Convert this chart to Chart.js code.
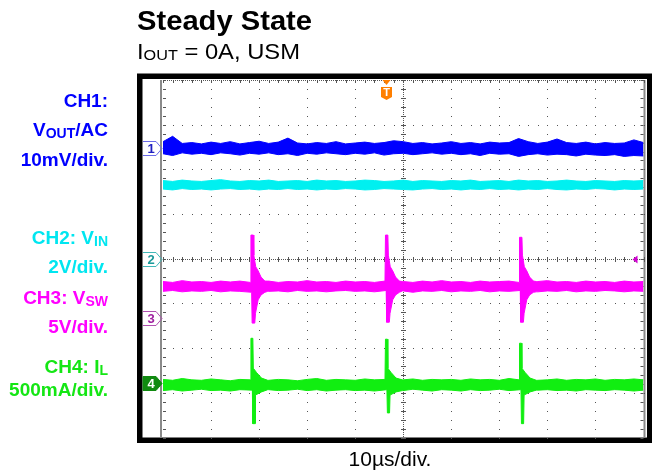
<!DOCTYPE html>
<html>
<head>
<meta charset="utf-8">
<script src="https://cdn.jsdelivr.net/npm/chart.js@4"></script>
<style>
  body { margin: 0; background: #fff; overflow: hidden; }
  #wrap { position: relative; width: 652px; height: 472px; }
  #scope { position: absolute; left: 0; top: 0; }
  .txt { position: absolute; white-space: nowrap; font-family: "Liberation Sans", Arial, sans-serif; }
  .title { left: 137px; top: 8px; font-size: 27px; line-height: 27px; font-weight: bold; transform: scaleX(1.08); transform-origin: left; }
  .sub { left: 137px; top: 41px; font-size: 22px; line-height: 22px; transform: scaleX(1.08); transform-origin: left; }
  .sub sub { font-size: 15px; vertical-align: -1px; line-height: 0; }
  .lab { right: 544px; font-size: 19px; line-height: 19px; font-weight: bold; text-align: right; }
  .lab sub { font-size: 14px; vertical-align: -2px; line-height: 0; }
  .xlab { left: 290px; width: 200px; top: 448px; font-size: 21px; line-height: 21px; text-align: center; }
</style>
</head>
<body>
<div id="wrap">
  <canvas id="scope" width="652" height="472"></canvas>
  <div class="txt title">Steady State</div>
  <div class="txt sub">I<sub>OUT</sub> = 0A, USM</div>
  <div class="txt lab" style="top:91px;color:#0000ff">CH1:</div>
  <div class="txt lab" style="top:120px;color:#0000ff">V<sub>OUT</sub>/AC</div>
  <div class="txt lab" style="top:150px;color:#0000ff">10mV/div.</div>
  <div class="txt lab" style="top:228px;color:#00e6f0">CH2: V<sub>IN</sub></div>
  <div class="txt lab" style="top:257px;color:#00e6f0">2V/div.</div>
  <div class="txt lab" style="top:288px;color:#ff00ff">CH3: V<sub>SW</sub></div>
  <div class="txt lab" style="top:317px;color:#ff00ff">5V/div.</div>
  <div class="txt lab" style="top:357px;color:#14e614">CH4: I<sub>L</sub></div>
  <div class="txt lab" style="top:380px;color:#14e614">500mA/div.</div>
  <div class="txt xlab">10µs/div.</div>
</div>
<script>
// scope screen: 10 div x 10 µs, 8 div vertical; trace values in divisions
const tBase = [0, 2, 4, 6, 8, 10, 12, 14, 16, 18, 20, 22, 24, 26, 28, 30, 32, 34, 36, 38, 40, 42, 44, 46, 48, 50,
  52, 54, 56, 58, 60, 62, 64, 66, 68, 70, 72, 74, 76, 78, 80, 82, 84, 86, 88, 90, 92, 94, 96, 98, 100];

// upper / lower edge of each noisy trace
const ch1Hi = [2.62, 2.74, 2.58, 2.60, 2.57, 2.61, 2.58, 2.62, 2.57, 2.60,
  2.63, 2.58, 2.61, 2.70, 2.59, 2.57, 2.60, 2.58, 2.62, 2.57,
  2.59, 2.61, 2.58, 2.60, 2.64, 2.62, 2.58, 2.60, 2.57, 2.59,
  2.62, 2.58, 2.60, 2.57, 2.61, 2.59, 2.60, 2.69, 2.62, 2.58,
  2.61, 2.68, 2.60, 2.58, 2.61, 2.57, 2.60, 2.58, 2.59, 2.66, 2.60];
const ch1Lo = [2.35, 2.31, 2.37, 2.34, 2.36, 2.33, 2.37, 2.35, 2.32, 2.36,
  2.34, 2.37, 2.33, 2.35, 2.31, 2.36, 2.34, 2.37, 2.35, 2.33,
  2.36, 2.34, 2.37, 2.32, 2.35, 2.36, 2.33, 2.35, 2.37, 2.34,
  2.36, 2.33, 2.35, 2.31, 2.36, 2.34, 2.35, 2.29, 2.33, 2.35,
  2.32, 2.34, 2.33, 2.30, 2.34, 2.32, 2.31, 2.33, 2.29, 2.31, 2.30];
const ch2Hi = [1.75, 1.73, 1.76, 1.74, 1.73, 1.75, 1.77, 1.74, 1.73, 1.75,
  1.74, 1.76, 1.73, 1.74, 1.75, 1.73, 1.76, 1.74, 1.75, 1.73,
  1.74, 1.76, 1.75, 1.73, 1.74, 1.76, 1.73, 1.75, 1.74, 1.73,
  1.75, 1.74, 1.76, 1.73, 1.74, 1.75, 1.73, 1.76, 1.74, 1.75,
  1.73, 1.74, 1.76, 1.74, 1.73, 1.75, 1.74, 1.73, 1.75, 1.74, 1.75];
const ch2Lo = [1.56, 1.54, 1.57, 1.55, 1.56, 1.54, 1.56, 1.57, 1.55, 1.56,
  1.54, 1.56, 1.55, 1.57, 1.55, 1.56, 1.54, 1.56, 1.55, 1.57,
  1.56, 1.54, 1.55, 1.57, 1.56, 1.55, 1.54, 1.56, 1.57, 1.55,
  1.56, 1.54, 1.56, 1.55, 1.57, 1.55, 1.56, 1.54, 1.56, 1.55,
  1.57, 1.55, 1.54, 1.56, 1.55, 1.57, 1.56, 1.54, 1.56, 1.55, 1.56];
const ch3Hi = [-0.51, -0.53, -0.49, -0.52, -0.51, -0.53, -0.50, -0.52, -0.50, -0.53,
  -0.52, -0.50, -0.53, -0.51, -0.52, -0.49, -0.52, -0.51, -0.53, -0.50,
  -0.52, -0.51, -0.53, -0.50, -0.52, -0.51, -0.53, -0.50, -0.52, -0.49,
  -0.52, -0.51, -0.53, -0.50, -0.52, -0.51, -0.50, -0.53, -0.52, -0.51,
  -0.49, -0.52, -0.51, -0.53, -0.50, -0.52, -0.51, -0.53, -0.50, -0.52, -0.51];
const ch3Lo = [-0.73, -0.71, -0.74, -0.72, -0.73, -0.71, -0.74, -0.72, -0.73, -0.75,
  -0.71, -0.73, -0.72, -0.74, -0.71, -0.73, -0.72, -0.74, -0.72, -0.71,
  -0.73, -0.72, -0.74, -0.71, -0.73, -0.72, -0.75, -0.72, -0.73, -0.71,
  -0.74, -0.72, -0.73, -0.71, -0.74, -0.72, -0.73, -0.71, -0.72, -0.74,
  -0.72, -0.73, -0.71, -0.74, -0.72, -0.73, -0.71, -0.72, -0.74, -0.72, -0.73];
const ch4Hi = [-2.70, -2.72, -2.68, -2.71, -2.72, -2.69, -2.71, -2.73, -2.70, -2.71,
  -2.69, -2.72, -2.70, -2.71, -2.73, -2.70, -2.68, -2.72, -2.70, -2.71,
  -2.72, -2.69, -2.71, -2.70, -2.72, -2.71, -2.69, -2.72, -2.70, -2.71,
  -2.70, -2.72, -2.69, -2.71, -2.70, -2.72, -2.68, -2.71, -2.70, -2.72,
  -2.71, -2.69, -2.72, -2.70, -2.71, -2.69, -2.72, -2.70, -2.71, -2.69, -2.71];
const ch4Lo = [-2.95, -2.93, -2.96, -2.94, -2.92, -2.95, -2.94, -2.96, -2.93, -2.94,
  -2.96, -2.93, -2.95, -2.94, -2.92, -2.95, -2.93, -2.96, -2.94, -2.93,
  -2.95, -2.94, -2.96, -2.93, -2.94, -2.95, -2.92, -2.94, -2.96, -2.93,
  -2.94, -2.96, -2.93, -2.95, -2.94, -2.92, -2.95, -2.93, -2.96, -2.94,
  -2.93, -2.95, -2.94, -2.96, -2.93, -2.94, -2.95, -2.93, -2.94, -2.96, -2.94];

// switching edges (µs) and their peaks
const spikeTimes = [18.3, 46.3, 74.2];
const ch3PeakHi = [0.53, 0.53, 0.48];
const ch3PeakLo = [-1.44, -1.42, -1.42];
const ch4PeakHi = [-1.78, -1.80, -1.89];
const ch4PeakLo = [-3.69, -3.45, -3.69];
// ringing after an edge: [µs after edge, div]
const ch3RingHi = [[0.6, 0.08], [1.0, -0.18], [1.5, -0.27], [2.1, -0.41], [2.9, -0.50]];
const ch3RingLo = [[0.95, -1.22], [1.5, -0.92], [2.1, -0.81], [2.9, -0.75]];
const ch4RingHi = [[0.5, -2.45], [1.2, -2.55], [2.2, -2.67]];
const ch4RingLo = [[0.95, -3.05], [2.2, -2.98]];

// channel ground markers (div) and trigger
const markerLevels = [2.47, 0, -1.33, -2.77];
const triggerTime = 46.5;
const triggerLevel = 0;

function nearest(base, t) {
  let i = Math.round(t / 2);
  i = Math.max(0, Math.min(base.length - 1, i));
  return base[i];
}

function edge(base, peaks, pStart, pEnd, ring) {
  if (!peaks) return tBase.map((t, i) => ({ x: t, y: base[i] }));
  const pts = [];
  tBase.forEach((t, i) => {
    const busy = spikeTimes.some(s => t > s - 0.4 && t < s + 3.7);
    if (!busy) pts.push({ x: t, y: base[i] });
  });
  spikeTimes.forEach((s, k) => {
    pts.push({ x: s + pStart - 0.1, y: nearest(base, s) });
    pts.push({ x: s + pStart, y: peaks[k] });
    pts.push({ x: s + pEnd, y: peaks[k] });
    ring.forEach(([dt, v]) => pts.push({ x: s + dt, y: v }));
    pts.push({ x: s + 3.5, y: nearest(base, s + 3.5) });
  });
  return pts.sort((a, b) => a.x - b.x);
}

const traces = [
  { hi: edge(ch1Hi), lo: edge(ch1Lo), color: "#0000ff" },
  { hi: edge(ch2Hi), lo: edge(ch2Lo), color: "#00f0f0" },
  { hi: edge(ch3Hi, ch3PeakHi, 0, 0.5, ch3RingHi), lo: edge(ch3Lo, ch3PeakLo, 0.25, 0.8, ch3RingLo), color: "#ff00ff" },
  { hi: edge(ch4Hi, ch4PeakHi, 0, 0.4, ch4RingHi), lo: edge(ch4Lo, ch4PeakLo, 0.4, 0.85, ch4RingLo), color: "#11ee11" },
];

const datasets = [];
traces.forEach(tr => {
  datasets.push({ data: tr.hi, borderColor: tr.color, backgroundColor: tr.color, fill: "+1" });
  datasets.push({ data: tr.lo, borderColor: tr.color, backgroundColor: tr.color, fill: false });
});

const tagStyles = [
  { stroke: "#6a6ae8", fill: null, text: "#2020c0", label: "1" },
  { stroke: "#40b8b8", fill: null, text: "#1a9a9a", label: "2" },
  { stroke: "#b050b0", fill: null, text: "#a020a0", label: "3" },
  { stroke: "#108a10", fill: "#108a10", text: "#ffffff", label: "4" },
];

const scopePlugin = {
  id: "scope",
  beforeDraw(chart) {
    const { ctx, chartArea: a } = chart;
    ctx.save();
    ctx.fillStyle = "#fff";
    ctx.fillRect(0, 0, chart.width, chart.height);
    ctx.fillStyle = "#000";
    ctx.fillRect(a.left - 26, a.top - 6.5, chart.width - a.left + 26, a.bottom - a.top + 12);
    ctx.fillStyle = "#fff";
    ctx.fillRect(a.left - 20.5, a.top - 1, a.right - a.left + 24, a.bottom - a.top + 1);
    ctx.restore();
  },
  beforeDatasetsDraw(chart) {
    const { ctx, chartArea: a, scales: { x, y } } = chart;
    ctx.save();
    ctx.fillStyle = "#8a8a8a";
    ctx.fillRect(a.left - 3, a.top, 2, a.bottom - a.top);
    ctx.fillRect(a.right, a.top, 2, a.bottom - a.top);
    ctx.fillStyle = "#555";
    const xDots = [], yDots = [];
    for (let v = 0; v <= 100; v += 2) xDots.push(Math.round(x.getPixelForValue(v)));
    for (let v = -20; v <= 20; v++) yDots.push(Math.round(y.getPixelForValue(v / 5)));
    for (let d = 10; d < 100; d += 10) {
      const px = Math.round(x.getPixelForValue(d));
      yDots.forEach(py => ctx.fillRect(px, py, 1, 1));
    }
    for (let d = -3; d <= 3; d++) {
      const py = Math.round(y.getPixelForValue(d));
      xDots.forEach(px => ctx.fillRect(px, py, 1, 1));
    }
    const cx = Math.round(x.getPixelForValue(50));
    const cy = Math.round(y.getPixelForValue(0));
    for (let p = a.left; p < a.right; p += 2) ctx.fillRect(p, cy, 1, 1);
    for (let p = a.top; p < a.bottom; p += 2) ctx.fillRect(cx, p, 1, 1);
    xDots.forEach(px => ctx.fillRect(px, cy - 2, 1, 5));
    yDots.forEach(py => ctx.fillRect(cx - 2, py, 5, 1));
    for (let p = a.left; p < a.right; p += 2) ctx.fillRect(p, a.top, 1, 1);
    xDots.forEach(px => ctx.fillRect(px, a.top, 1, 3));
    yDots.forEach(py => {
      ctx.fillRect(a.left, py, 3, 1);
      ctx.fillRect(a.right - 3, py, 3, 1);
    });
    ctx.restore();
  },
  afterDatasetsDraw(chart) {
    const { ctx, chartArea: a, scales: { x, y } } = chart;
    ctx.save();
    // channel tags on the left edge
    const r = a.left - 1, n = a.left - 7, l = a.left - 20;
    markerLevels.forEach((lv, i) => {
      const s = tagStyles[i];
      const yc = Math.round(y.getPixelForValue(lv)) + 0.5;
      ctx.beginPath();
      ctx.moveTo(l, yc - 7);
      ctx.lineTo(n, yc - 7);
      ctx.lineTo(r, yc);
      ctx.lineTo(n, yc + 7);
      ctx.lineTo(l, yc + 7);
      if (s.fill) {
        ctx.closePath();
        ctx.fillStyle = s.fill;
        ctx.fill();
      }
      ctx.strokeStyle = s.stroke;
      ctx.lineWidth = 1;
      ctx.stroke();
      ctx.fillStyle = s.text;
      ctx.font = 'bold 13px "Liberation Sans", Arial, sans-serif';
      ctx.textAlign = "center";
      ctx.textBaseline = "middle";
      ctx.fillText(s.label, l + 8, yc + 1);
    });
    // trigger position
    const tx = Math.round(x.getPixelForValue(triggerTime)) + 0.5;
    ctx.fillStyle = "#ff7f00";
    ctx.beginPath();
    ctx.moveTo(tx - 4, a.top);
    ctx.lineTo(tx + 4, a.top);
    ctx.lineTo(tx, a.top + 5);
    ctx.closePath();
    ctx.fill();
    ctx.beginPath();
    ctx.moveTo(tx - 5.5, a.top + 7);
    ctx.lineTo(tx + 5.5, a.top + 7);
    ctx.lineTo(tx + 5.5, a.top + 17);
    ctx.lineTo(tx, a.top + 20);
    ctx.lineTo(tx - 5.5, a.top + 17);
    ctx.closePath();
    ctx.fill();
    ctx.fillStyle = "#fff";
    ctx.font = 'bold 11px "Liberation Sans", Arial, sans-serif';
    ctx.textAlign = "center";
    ctx.textBaseline = "middle";
    ctx.fillText("T", tx, a.top + 13);
    // trigger level
    const ty = Math.round(y.getPixelForValue(triggerLevel)) + 0.5;
    ctx.fillStyle = "#d000d0";
    ctx.beginPath();
    ctx.moveTo(a.right - 11, ty);
    ctx.lineTo(a.right - 6, ty - 4);
    ctx.lineTo(a.right - 6, ty + 4);
    ctx.closePath();
    ctx.fill();
    ctx.restore();
  },
};

new Chart("scope", {
  type: "line",
  data: { datasets: datasets },
  options: {
    responsive: false,
    animation: false,
    devicePixelRatio: 1,
    layout: { padding: { left: 163, right: 8.5, top: 80, bottom: 34.5 } },
    elements: { point: { radius: 0 }, line: { borderWidth: 1, tension: 0 } },
    scales: {
      x: { type: "linear", min: 0, max: 100, display: false },
      y: { min: -4, max: 4, display: false },
    },
    plugins: { legend: { display: false }, tooltip: { enabled: false } },
  },
  plugins: [scopePlugin],
});
</script>
</body>
</html>
